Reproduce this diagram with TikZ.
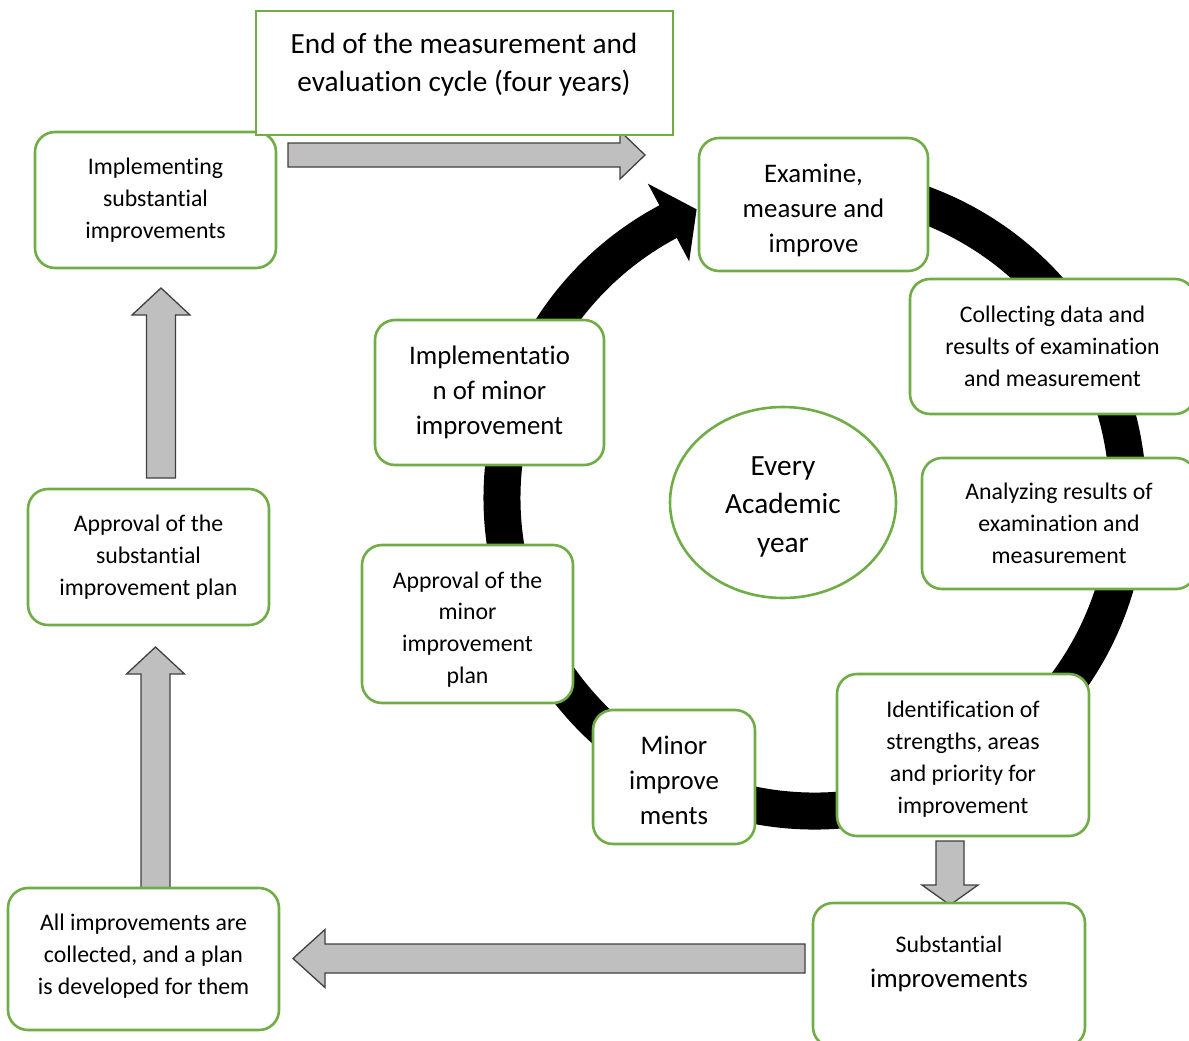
\documentclass[tikz,border=0pt]{standalone}
\usepackage{fontspec}
\setmainfont{Carlito}[Ligatures=NoCommon]
\usetikzlibrary{shapes.geometric}

\definecolor{verde}{HTML}{70AD47}
\definecolor{grisflecha}{HTML}{BFBFBF}
\definecolor{bordeflecha}{HTML}{404040}

\newcommand{\chico}{\fontsize{23.8}{31.8}\selectfont}
\newcommand{\medio}{\fontsize{26.8}{35}\selectfont}
\newcommand{\grande}{\fontsize{29.3}{38.5}\selectfont}

% flecha gruesa gris: origen, direccion, largo, medio ancho, largo de la punta
\newcommand{\flechagris}[5]{%
	\draw[flechagris, shift={(#1)}, rotate=#2]
		(0,-#4) -- (#3-#5,-#4) -- (#3-#5,-2*#4) -- (#3,0)
		-- (#3-#5,2*#4) -- (#3-#5,#4) -- (0,#4) -- cycle;}

\begin{document}
\begin{tikzpicture}[x=1pt, y=-1pt,
	caja/.style={draw=verde, line width=2.6pt, fill=white, rounded corners=20pt,
		align=center, inner sep=0pt, font=\chico},
	texto/.style={align=center, inner sep=0pt, font=\chico},
	flechagris/.style={fill=grisflecha, draw=bordeflecha, line width=1.3pt},
	anillo/.style={line width=37pt}]

	\useasboundingbox (0,0) rectangle (1189,1041);
	\clip (0,0) rectangle (1189,1041);

	% 1. Anillo negro del ciclo anual
	\coordinate (centro) at (815,498);
	\draw[anillo] ([shift={(100:313pt)}]centro) arc[start angle=100, end angle=-242.5, radius=313pt];
	\fill ([shift={(118:356pt)}]centro) -- ([shift={(112.3:312pt)}]centro)
		-- ([shift={(118:268pt)}]centro) -- cycle;

	% 2. Flechas grises (ciclo de cuatro anios)
	\coordinate (fA) at (288,155);
	\coordinate (fB) at (161,478);
	\coordinate (fC) at (155.5,888);
	\coordinate (fD) at (805,958.5);
	\coordinate (fE) at (950,841);
	\flechagris{fA}{0}{357}{12}{25}
	\flechagris{fB}{90}{190}{14.5}{27}
	\flechagris{fC}{90}{241}{14.5}{27}
	\flechagris{fD}{180}{512}{14.5}{32}
	\flechagris{fE}{-90}{64}{14}{20}

	% 3. Cajas del ciclo anual
	\node[caja, minimum width=229, minimum height=133] (examinar) at (813.5,204.5) {};
	\node[texto, font=\medio] (examinartxt) at (813.5,210) {Examine,\\measure and\\improve};
	\node[caja, minimum width=285, minimum height=135] (recoger) at (1052.5,346.5)
		{Collecting data and\\results of examination\\and measurement};
	\node[caja, minimum width=274, minimum height=131] (analizar) at (1059,523.5)
		{Analyzing results of\\examination and\\measurement};
	\node[caja, minimum width=252, minimum height=162] (identificar) at (963,755) {};
	\node[texto] (identificartxt) at (963,759)
		{Identification of\\strengths, areas\\and priority for\\improvement};
	\node[caja, minimum width=162, minimum height=134] (menores) at (674,777) {};
	\node[texto, font=\medio] (menorestxt) at (674,780.5) {Minor\\improve\\ments};
	\node[caja, minimum width=211, minimum height=158] (aprobmen) at (467.5,624) {};
	\node[texto] (aprobmentxt) at (467.5,629.5) {Approval of the\\minor\\improvement\\plan};
	\node[caja, font=\medio, minimum width=229, minimum height=145] (implmen) at (489.5,392.5)
		{Implementatio\\n of minor\\improvement};
	\node[ellipse, draw=verde, line width=2.6pt, fill=white, minimum width=226, minimum height=191,
		inner sep=0pt] (anio) at (783,502.5) {};
	\node[texto, font=\grande] (aniotxt) at (783,506.5) {Every\\Academic\\year};

	% 4. Cajas del ciclo de cuatro anios
	\node[caja, minimum width=272, minimum height=144] (sust) at (949,975) {};
	\node[texto, font=\medio] (susttxt) at (949,964) {{\chico Substantial}\\improvements};
	\node[caja, minimum width=271, minimum height=142] (todas) at (143.5,959) {};
	\node[texto] (todastxt) at (143.5,956)
		{All improvements are\\collected, and a plan\\is developed for them};
	\node[caja, minimum width=241, minimum height=136] (aprobsust) at (148.5,557)
		{Approval of the\\substantial\\improvement plan};
	\node[caja, minimum width=241, minimum height=136] (implsust) at (155.5,200)
		{Implementing\\substantial\\improvements};
	\node[draw=verde, line width=2.6pt, fill=white, minimum width=417, minimum height=124,
		inner sep=0pt] (fin) at (464.5,73) {};
	\node[texto, font=\grande] (fintxt) at (464,64.5)
		{End of the measurement and\\evaluation cycle (four years)};

\end{tikzpicture}
\end{document}
